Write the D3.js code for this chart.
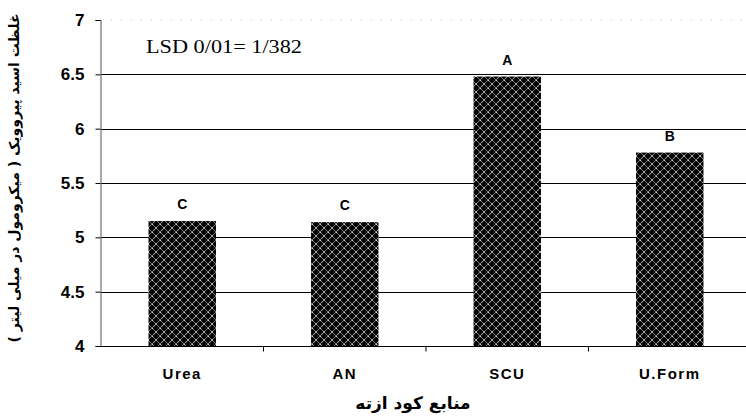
<!DOCTYPE html>
<html><head><meta charset="utf-8">
<script src="https://cdn.jsdelivr.net/npm/d3@7"></script>
<style>html,body{margin:0;padding:0;background:#fff;}</style>
</head><body>
<script>
const categories = ["Urea", "AN", "SCU", "U.Form"];
const values = [5.15, 5.14, 6.48, 5.78];
const letters = ["C", "C", "A", "B"];
const yTicks = [4, 4.5, 5, 5.5, 6, 6.5, 7];
const yTitle = "غلظت اسید پیروویک ( میکرومول در میلی لیتر )";
const xTitle = "منابع کود ازته";
const lsdText = "LSD 0/01= 1/382";

const W = 746, H = 417;
const svg = d3.select("body").append("svg").attr("width", W).attr("height", H)
  .style("font-family", "Arial, 'Liberation Sans', sans-serif");

const defs = svg.append("defs");
const pat = defs.append("pattern").attr("id", "hatch").attr("patternUnits", "userSpaceOnUse")
  .attr("width", 8).attr("height", 8);
pat.append("rect").attr("width", 8).attr("height", 8).attr("fill", "#050505");
pat.append("path").attr("d", "M0,0 L8,8 M8,0 L0,8").attr("stroke", "#8a8a8a").attr("stroke-width", 0.9);
pat.append("rect").attr("x", 3.5).attr("y", 3.5).attr("width", 1.2).attr("height", 1.2).attr("fill", "#fff");
pat.append("rect").attr("x", 0).attr("y", 0).attr("width", 1).attr("height", 1).attr("fill", "#ddd");
pat.append("rect").attr("x", 1.5).attr("y", 5.5).attr("width", 1).attr("height", 1).attr("fill", "#bbb");

const x = d3.scaleBand().domain(categories).range([101, 751]).paddingInner(0.585).paddingOuter(0.2925);
const y = d3.scaleLinear().domain([4, 7]).range([346, 20]);

// top border (faint dotted)
svg.append("line").attr("x1", 101).attr("x2", 746).attr("y1", y(7)).attr("y2", y(7))
  .attr("stroke", "#bbb").attr("stroke-dasharray", "1,9");

// gridlines
svg.append("g").selectAll("line").data(yTicks.filter(d => d > 4 && d < 7)).join("line")
  .attr("x1", 101).attr("x2", W).attr("y1", d => Math.round(y(d)) + 0.5).attr("y2", d => Math.round(y(d)) + 0.5)
  .attr("stroke", "#000").attr("stroke-width", 1);

// bars
svg.append("g").selectAll("rect").data(categories).join("rect")
  .attr("x", d => x(d)).attr("width", x.bandwidth())
  .attr("y", (d, i) => y(values[i])).attr("height", (d, i) => y(4) - y(values[i]))
  .attr("fill", "url(#hatch)");

// letters
svg.append("g").selectAll("text").data(categories).join("text")
  .attr("x", d => x(d) + x.bandwidth() / 2)
  .attr("y", (d, i) => y(values[i]) - 12)
  .attr("text-anchor", "middle").attr("font-weight", "bold").attr("font-size", 14)
  .text((d, i) => letters[i]);

// y axis
const yAxis = svg.append("g").attr("transform", "translate(100.5,0)")
  .call(d3.axisLeft(y).tickValues(yTicks).tickSize(5).tickPadding(11).tickFormat(d3.format("")));
yAxis.select(".domain").attr("stroke", "#555");
yAxis.selectAll(".tick line").attr("stroke", "#000");
yAxis.selectAll("text").attr("font-size", 17).attr("font-weight", "bold").attr("fill", "#000")
  .attr("font-family", "Arial, 'Liberation Sans', sans-serif");

// x axis
const xAxis = svg.append("g").attr("transform", "translate(0,346.5)");
xAxis.append("line").attr("x1", 100).attr("x2", W).attr("stroke", "#000");
const bounds = categories.map(c => x(c) - x.step() * x.paddingInner() / 2).slice(1);
xAxis.selectAll(".sep").data(bounds).join("line").attr("class", "sep")
  .attr("x1", d => d).attr("x2", d => d).attr("y1", 0).attr("y2", 5).attr("stroke", "#000");
xAxis.selectAll("text").data(categories).join("text")
  .attr("x", d => x(d) + x.bandwidth() / 2).attr("y", 32)
  .attr("text-anchor", "middle").attr("font-weight", "bold").attr("font-size", 15)
  .attr("letter-spacing", 1.5)
  .text(d => d);

// x title
svg.append("text").attr("x", 413).attr("y", 409).attr("text-anchor", "middle")
  .attr("font-family", "'DejaVu Sans', sans-serif").attr("font-weight", "bold").attr("font-size", 17)
  .attr("direction", "rtl").text(xTitle);

// y title
svg.append("text").attr("transform", "translate(19,178) rotate(-90)").attr("text-anchor", "middle")
  .attr("font-family", "'DejaVu Sans', sans-serif").attr("font-weight", "bold").attr("font-size", 14)
  .attr("direction", "rtl").text(yTitle);

// LSD annotation
svg.append("text").attr("x", 146).attr("y", 53)
  .attr("font-family", "'Liberation Serif', 'Times New Roman', serif").attr("font-size", 18)
  .attr("textLength", 156).attr("lengthAdjust", "spacingAndGlyphs")
  .text(lsdText);
</script>
</body></html>
